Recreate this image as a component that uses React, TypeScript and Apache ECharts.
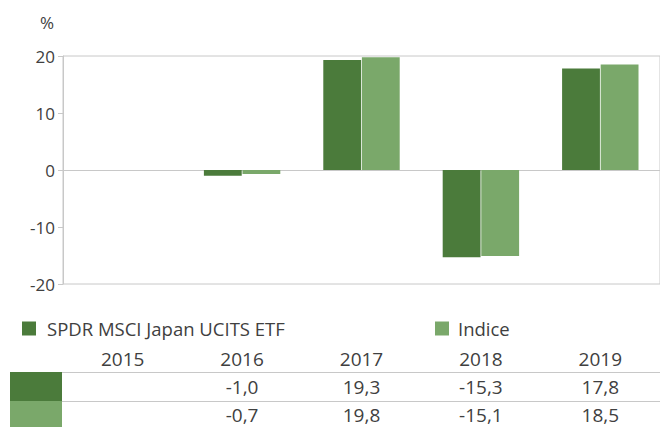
import React, { useEffect, useRef } from "react";
import * as echarts from "echarts";

const years = ["2015", "2016", "2017", "2018", "2019"];
const fundName = "SPDR MSCI Japan UCITS ETF";
const indexName = "Indice";
const fundValues: (number | null)[] = [null, -1.0, 19.3, -15.3, 17.8];
const indexValues: (number | null)[] = [null, -0.7, 19.8, -15.1, 18.5];
const yTicks = { min: -20, max: 20, interval: 10 };

const DARK = "#4B7B3B";
const LIGHT = "#7AA86A";
const TEXT = "#404040";
const LINE = "#C8C8C8";
const FONT = "'Open Sans', sans-serif";

const fmt = (v: number | null) => (v === null ? " " : v.toFixed(1).replace(".", ","));

export default function App() {
  const ref = useRef<HTMLDivElement>(null);
  useEffect(() => {
    if (!ref.current) return;
    const chart = echarts.init(ref.current, undefined, { renderer: "svg" });
    chart.setOption({
      animation: false,
      textStyle: { fontFamily: FONT },
      grid: {
        left: 63,
        right: 0,
        top: 56,
        bottom: 143,
        show: true,
        borderColor: LINE,
        borderWidth: 1,
      },
      legend: [
        {
          data: [fundName],
          left: 22,
          top: 319,
          padding: 0,
          itemWidth: 14,
          itemHeight: 14,
          itemGap: 10,
          icon: "rect",
          textStyle: { color: TEXT, fontSize: 18.5, fontFamily: FONT, padding: [0, 0, 0, 6] },
        },
        {
          data: [indexName],
          left: 435,
          top: 319,
          padding: 0,
          itemWidth: 14,
          itemHeight: 14,
          icon: "rect",
          textStyle: { color: TEXT, fontSize: 18.5, fontFamily: FONT, padding: [0, 0, 0, 4] },
        },
      ],
      xAxis: [
        {
          type: "category",
          data: years,
          axisLine: { show: true, onZero: true, lineStyle: { color: LINE } },
          axisTick: { show: false },
          axisLabel: { show: false },
          splitLine: { show: false },
        },
        {
          type: "category",
          data: years,
          position: "bottom",
          axisLine: { show: false, onZero: false },
          axisTick: { show: false },
          splitLine: { show: false },
          axisLabel: {
            show: true,
            interval: 0,
            margin: 61,
            formatter: (value: string, idx: number) =>
              `{y|${value}}\n{v|${fmt(fundValues[idx])}}\n{v|${fmt(indexValues[idx])}}`,
            rich: {
              y: { fontSize: 19, lineHeight: 28, color: TEXT, fontFamily: FONT },
              v: { fontSize: 19, lineHeight: 28, color: TEXT, fontFamily: FONT },
            },
          },
        },
      ],
      yAxis: {
        type: "value",
        min: yTicks.min,
        max: yTicks.max,
        interval: yTicks.interval,
        name: "%",
        nameLocation: "end",
        nameGap: 34,
        nameTextStyle: {
          color: TEXT,
          fontSize: 17,
          fontFamily: FONT,
          align: "right",
          verticalAlign: "middle",
          padding: [0, 9, 0, 0],
        },
        axisLine: { show: true, lineStyle: { color: LINE } },
        axisTick: { show: true, length: 5, lineStyle: { color: LINE } },
        axisLabel: { color: TEXT, fontSize: 17, margin: 8, fontFamily: FONT },
        splitLine: { show: false },
      },
      series: [
        {
          name: fundName,
          type: "bar",
          data: fundValues,
          itemStyle: { color: DARK },
          barCategoryGap: "36%",
          barGap: "2%",
        },
        {
          name: indexName,
          type: "bar",
          data: indexValues,
          itemStyle: { color: LIGHT },
          barCategoryGap: "36%",
          barGap: "2%",
        },
      ],
      graphic: [
        { type: "rect", shape: { x: 10, y: 372, width: 52, height: 29 }, style: { fill: DARK }, silent: true },
        { type: "rect", shape: { x: 10, y: 401, width: 52, height: 26 }, style: { fill: LIGHT }, silent: true },
        { type: "line", shape: { x1: 62, y1: 372.5, x2: 660, y2: 372.5 }, style: { stroke: LINE, lineWidth: 1 }, silent: true },
        { type: "line", shape: { x1: 62, y1: 401.5, x2: 660, y2: 401.5 }, style: { stroke: LINE, lineWidth: 1 }, silent: true },
      ],
    });
    return () => chart.dispose();
  }, []);
  return (
    <div
      ref={ref}
      style={{ position: "absolute", left: 0, top: 0, width: 660, height: 427 }}
    />
  );
}
